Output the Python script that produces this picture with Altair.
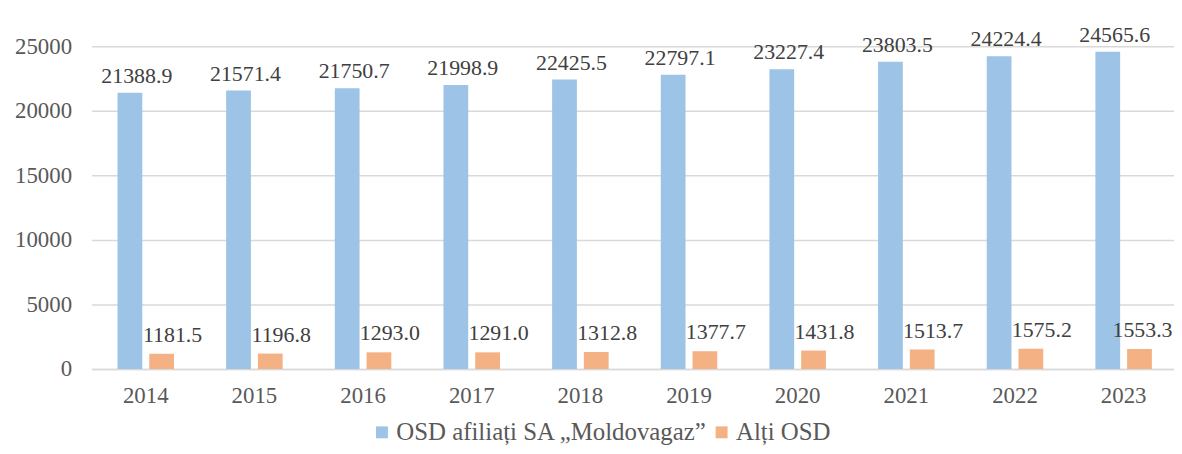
import altair as alt
import pandas as pd

years = ["2014", "2015", "2016", "2017", "2018", "2019", "2020", "2021", "2022", "2023"]
series_names = ["OSD afiliați SA „Moldovagaz”", "Alți OSD"]
osd_moldovagaz = [21388.9, 21571.4, 21750.7, 21998.9, 22425.5, 22797.1, 23227.4, 23803.5, 24224.4, 24565.6]
alti_osd = [1181.5, 1196.8, 1293.0, 1291.0, 1312.8, 1377.7, 1431.8, 1513.7, 1575.2, 1553.3]
colors = ["#9DC3E6", "#F4B183"]

rows = []
for i, y in enumerate(years):
    rows.append({"year": y, "series": series_names[0], "value": osd_moldovagaz[i], "order": 0})
    rows.append({"year": y, "series": series_names[1], "value": alti_osd[i], "order": 1})
df = pd.DataFrame(rows)

FONT = "Liberation Serif"

x = alt.X("year:N", sort=years, title=None,
          scale=alt.Scale(paddingInner=0.48, paddingOuter=0.24, range=[0, 1094]),
          axis=alt.Axis(labelAngle=0, labelPadding=16, ticks=False, domain=True,
                        domainColor="#D9D9D9", domainWidth=1.5, grid=False))
xoff = alt.XOffset("series:N", sort=series_names,
                   scale=alt.Scale(paddingInner=0.22, paddingOuter=0))

bars = alt.Chart(df).mark_bar().encode(
    x=x,
    xOffset=xoff,
    y=alt.Y("value:Q", title=None,
            scale=alt.Scale(domain=[0, 25000], nice=False),
            axis=alt.Axis(values=[0, 5000, 10000, 15000, 20000, 25000], format="d",
                          labelPadding=20, ticks=False, domain=False,
                          grid=True, gridColor="#D9D9D9", gridWidth=1.5)),
    color=alt.Color("series:N", sort=series_names,
                    scale=alt.Scale(domain=series_names, range=colors),
                    legend=alt.Legend(title=None, orient="none", direction="horizontal",
                                      legendX=280, legendY=376,
                                      symbolType="square", symbolSize=144,
                                      symbolStrokeWidth=0, symbolOpacity=1,
                                      labelFont=FONT, labelFontSize=25, labelColor="#595959",
                                      labelLimit=1000, columnPadding=1, labelOffset=2)),
)

def label_layer(data, dx, dy):
    return alt.Chart(data).mark_text(
        font=FONT, fontSize=22, color="#404040", baseline="alphabetic", dy=dy, dx=dx
    ).encode(
        x=alt.X("year:N", sort=years),
        xOffset=xoff,
        y="value:Q",
        text=alt.Text("value:Q", format=".1f"),
    )

blue_df = df[df["order"] == 0]
orange_df = df[df["order"] == 1]
last_year = years[-1]

labels_blue = label_layer(blue_df, 7, -10)
labels_orange = label_layer(orange_df[orange_df["year"] != last_year], 11, -12)
labels_orange_last = label_layer(orange_df[orange_df["year"] == last_year], 3, -12)

chart = alt.layer(bars, labels_blue, labels_orange, labels_orange_last).properties(
    width=1090, height=325,
    autosize=alt.AutoSizeParams(type="none"),
    padding={"left": 84, "top": 37, "right": 0, "bottom": 76},
    background="white",
).configure_view(stroke=None).configure_axis(
    labelFont=FONT, labelFontSize=23, labelColor="#595959"
)

chart.save("out.html", embed_options={"renderer": "svg", "actions": False})
